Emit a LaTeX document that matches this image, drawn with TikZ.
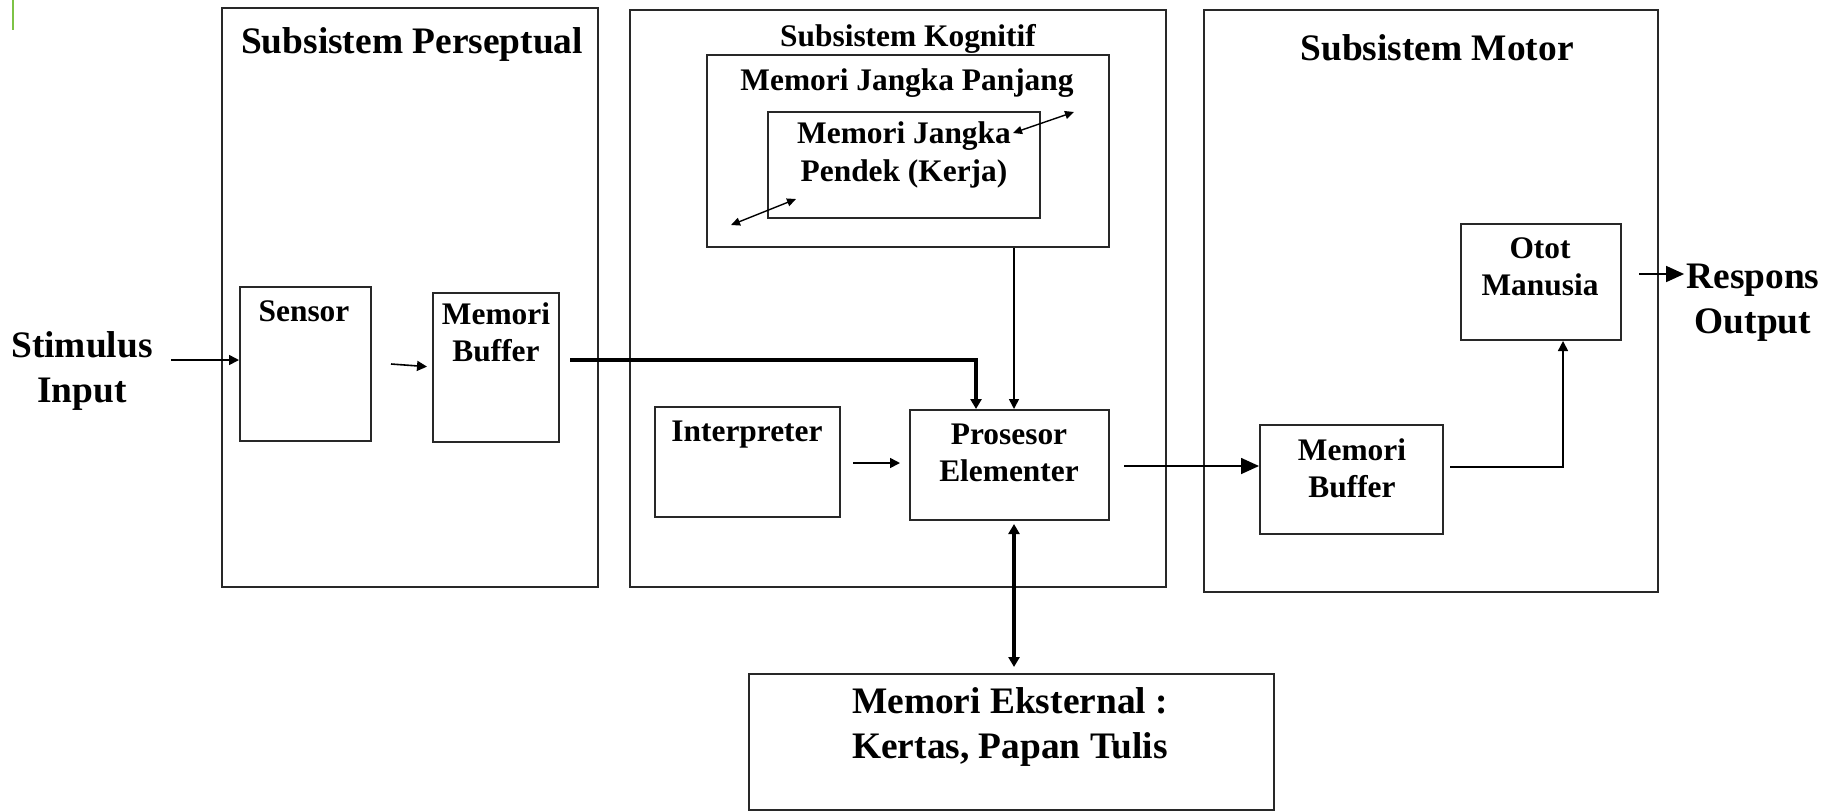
\documentclass[tikz,border=0pt]{standalone}
\usepackage{fontspec}
\setmainfont{Liberation Serif}
\usetikzlibrary{arrows.meta,fit}
\definecolor{linegray}{RGB}{40,40,40}
\definecolor{markgreen}{RGB}{125,195,70}
\begin{document}
\begin{tikzpicture}[x=0.5pt,y=-0.5pt,
  box/.style={draw=linegray, line width=1pt, inner sep=0pt},
  bigtxt/.style={font=\fontsize{18.7}{22.3}\selectfont\bfseries, align=center, inner sep=0pt},
  smalltxt/.style={font=\fontsize{15.7}{18.7}\selectfont\bfseries, align=center, inner sep=0pt},
  conn/.style={line width=0.8pt, -{Triangle[length=5pt,width=5pt]}},
  bigconn/.style={line width=0.8pt, -{Triangle[length=9pt,width=8pt]}},
  thickconn/.style={line width=1.7pt, -{Triangle[length=5pt,width=5.5pt]}},
  twoway/.style={line width=0.7pt, {Triangle[length=4.5pt,width=4pt]}-{Triangle[length=4.5pt,width=4pt]}},
  thicktwoway/.style={line width=1.7pt, {Triangle[length=5pt,width=5.5pt]}-{Triangle[length=5pt,width=5.5pt]}}
]
\useasboundingbox (0,0) rectangle (1835,810);

% small green mark in the corner
\draw[markgreen, line width=1pt] (13,0) -- (13,30);

% ---- the three subsystems ----
\node[box, fit={(222,8) (598,587)}] (persep) {};
\node[box, fit={(630,10) (1166,587)}] (kog) {};
\node[box, fit={(1204,10) (1658,592)}] (motor) {};
\node[bigtxt] (persepT) at (412,45) {Subsistem Perseptual};
\node[smalltxt] (kogT) at (908,39) {Subsistem Kognitif};
\node[bigtxt] (motorT) at (1437,48) {Subsistem Motor};

% ---- perceptual subsystem ----
\node[box, fit={(240,287) (371,441)}] (sensor) {};
\node[smalltxt] (sensorT) at (304,311) {Sensor};
\node[box, fit={(433,293) (559,442)}] (pbuf) {};
\node[smalltxt] (pbufT) at (496,332) {Memori\\Buffer};
\node[bigtxt] (stim) at (82,371) {Stimulus\\Input};

% ---- cognitive subsystem ----
\node[box, fit={(707,55) (1109,247)}] (ltm) {};
\node[smalltxt] (ltmT) at (907,83) {Memori Jangka Panjang};
\node[box, fit={(768,112) (1040,218)}] (stm) {};
\node[smalltxt] (stmT) at (904,155) {Memori Jangka\\Pendek (Kerja)};
\node[box, fit={(655,407) (840,517)}] (interp) {};
\node[smalltxt] (interpT) at (747,435) {Interpreter};
\node[box, fit={(910,410) (1109,520)}] (proc) {};
\node[smalltxt] (procT) at (1009,453) {Prosesor\\Elementer};

% ---- external memory ----
\node[box, fit={(749,674) (1274,810)}] (ext) {};
\node[bigtxt] (extT) at (1010,727) {Memori Eksternal :\\Kertas, Papan Tulis};

% ---- motor subsystem ----
\node[box, fit={(1461,224) (1621,340)}] (otot) {};
\node[smalltxt] (ototT) at (1540,267) {Otot\\Manusia};
\node[box, fit={(1260,425) (1443,534)}] (mbuf) {};
\node[smalltxt] (mbufT) at (1352,468) {Memori\\Buffer};
\node[bigtxt] (resp) at (1753,303) {Respons\\Output};

% ---- connectors ----
\draw[conn, shorten <=9pt] (stim.east |- 0,360) -- (sensor.west |- 0,360);
\coordinate (sbStart) at (391,364);
\draw[conn, shorten >=2.5pt] (sbStart) -- (pbuf.west |- 0,367);
\draw[thickconn, shorten <=5pt] (pbuf.east |- 0,360) -- (976,360) -- (proc.north -| 976,0);
\draw[conn] (ltm.south -| 1014,0) -- (proc.north -| 1014,0);
\draw[conn, shorten <=6pt, shorten >=4.5pt] (interp.east |- 0,463) -- (proc.west |- 0,463);
\draw[bigconn, shorten <=7pt] (proc.east |- 0,466) -- (mbuf.west |- 0,466);
\draw[conn, shorten <=3pt] (mbuf.east |- 0,467) -- (1563,467) -- (otot.south -| 1563,0);
\draw[thicktwoway, shorten <=1.5pt, shorten >=3pt] (proc.south -| 1014,0) -- (ext.north -| 1014,0);
\draw[bigconn, shorten <=8.5pt, shorten >=1pt] (otot.east |- 0,274) -- (resp.west |- 0,274);

% exchanges between short- and long-term memory
\coordinate (xA1) at (1013,133);
\coordinate (xA2) at (1074,112);
\draw[twoway] (xA1) -- (xA2);
\coordinate (xB1) at (731,225);
\coordinate (xB2) at (796,199);
\draw[twoway] (xB1) -- (xB2);
\end{tikzpicture}
\end{document}
